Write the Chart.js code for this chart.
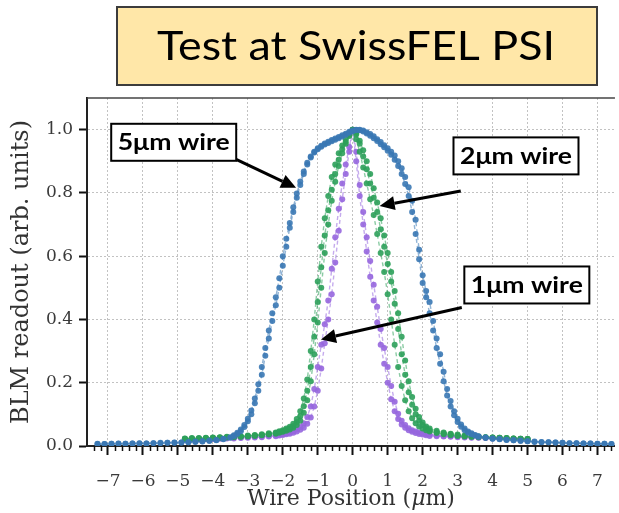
<!DOCTYPE html>
<html>
<head>
<meta charset="utf-8">
<script src="https://cdn.jsdelivr.net/npm/chart.js@4/dist/chart.umd.min.js"></script>
<style>
  html, body { margin: 0; padding: 0; background: #fff; }
  canvas { display: block; }
</style>
</head>
<body>
<canvas id="wireChart" width="619" height="513"></canvas>
<script>
// wire positions (um), shared by the scans of each wire
const xWide = [-7.3,-7.1,-6.9,-6.7,-6.5,-6.3,-6.1,-5.9,-5.7,-5.5,-5.3,-5.1,-4.9,-4.7,-4.5,-4.3,-4.1,-3.9,-3.7,
  -3.5,-3.4,-3.3,-3.2,-3.1,-3.0,-2.9,-2.8,-2.7,-2.6,-2.5,-2.4,-2.3,-2.2,-2.1,-2.0,-1.9,-1.8,-1.7,-1.6,-1.5,-1.4,-1.3,-1.2,-1.1,-1.0,-0.9,-0.8,-0.7,-0.6,-0.5,-0.4,-0.3,-0.2,-0.1,
  0.0,0.1,0.2,0.3,0.4,0.5,0.6,0.7,0.8,0.9,1.0,1.1,1.2,1.3,1.4,1.5,1.6,1.7,1.8,1.9,2.0,2.1,2.2,2.3,2.4,2.5,2.6,2.7,2.8,2.9,3.0,3.1,3.2,3.3,3.4,3.5,3.6,
  3.8,4.0,4.2,4.4,4.6,4.8,5.0,5.2,5.4,5.6,5.8,6.0,6.2,6.4,6.6,6.8,7.0,7.2,7.4];

const xNarrow = [-4.8,-4.6,-4.4,-4.2,-4.0,-3.8,-3.6,-3.4,-3.2,-3.0,-2.8,-2.6,-2.4,-2.2,
  -2.1,-2.0,-1.9,-1.8,-1.7,-1.6,-1.5,-1.4,-1.3,-1.2,-1.1,-1.0,-0.9,-0.8,-0.7,-0.6,-0.5,-0.4,-0.3,-0.2,-0.1,
  0.0,0.1,0.2,0.3,0.4,0.5,0.6,0.7,0.8,0.9,1.0,1.1,1.2,1.3,1.4,1.5,1.6,1.7,1.8,1.9,2.0,2.1,
  2.2,2.4,2.6,2.8,3.0,3.2,3.4,3.6,3.8,4.0,4.2,4.4,4.6,4.8,5.0];

// 5um wire, two scans
const blue1 = [.006,.006,.007,.007,.007,.008,.008,.008,.009,.009,.010,.010,.011,.012,.013,.014,.016,.018,.021,
  .026,.031,.038,.047,.060,.078,.100,.135,.175,.225,.285,.340,.395,.445,.500,.570,.630,.690,.740,.785,.825,.860,.890,.912,.928,.938,.946,.953,.958,.963,.968,.973,.978,.984,.990,
  .995,.999,1.0,.997,.992,.986,.979,.970,.961,.951,.941,.930,.918,.900,.878,.850,.818,.775,.715,.620,.540,.490,.455,.395,.340,.290,.235,.180,.142,.110,.086,.068,.055,.046,.040,.035,.031,
  .027,.024,.022,.020,.018,.017,.015,.014,.013,.012,.011,.010,.009,.009,.008,.008,.007,.007,.006];
const blue2 = [.007,.006,.007,.008,.007,.008,.009,.008,.009,.010,.010,.011,.011,.012,.014,.015,.017,.019,.023,
  .028,.034,.042,.052,.066,.086,.112,.150,.195,.250,.310,.365,.420,.470,.530,.600,.655,.705,.755,.798,.836,.868,.895,.915,.930,.941,.949,.956,.962,.967,.972,.977,.982,.987,.993,
  .997,1.0,.998,.994,.988,.981,.973,.964,.954,.944,.933,.921,.905,.885,.860,.828,.790,.740,.670,.590,.515,.470,.420,.365,.310,.260,.205,.160,.125,.097,.076,.061,.050,.042,.037,.033,.029,
  .026,.023,.021,.019,.018,.016,.015,.013,.012,.012,.011,.010,.009,.009,.008,.008,.007,.007,.006];

// 2um wire, three scans
const green1 = [.024,.025,.025,.026,.027,.028,.029,.030,.031,.033,.035,.037,.040,.043,
  .047,.050,.055,.061,.070,.085,.110,.150,.210,.300,.400,.520,.630,.720,.790,.850,.890,.925,.950,.970,.987,
  1.0,.985,.955,.915,.875,.830,.785,.740,.685,.630,.575,.520,.450,.370,.290,.225,.170,.130,.100,.080,.066,.056,
  .050,.044,.040,.037,.034,.032,.030,.029,.028,.027,.026,.025,.024,.023,.022];
const green2 = [.022,.023,.024,.024,.025,.026,.027,.028,.029,.030,.032,.034,.036,.039,
  .042,.045,.048,.052,.058,.066,.080,.105,.145,.205,.290,.390,.500,.610,.700,.775,.835,.885,.925,.955,.980,
  1.0,.970,.930,.880,.830,.780,.730,.670,.610,.550,.480,.400,.320,.250,.190,.145,.110,.088,.072,.062,.055,.050,
  .046,.041,.037,.034,.032,.030,.029,.028,.027,.026,.025,.024,.023,.022,.021];
const green3 = [.023,.024,.024,.025,.026,.027,.028,.029,.030,.032,.033,.035,.038,.041,
  .044,.047,.051,.056,.063,.075,.094,.126,.175,.250,.345,.455,.565,.665,.745,.810,.860,.905,.938,.962,.984,
  1.0,.990,.965,.935,.900,.860,.815,.770,.720,.665,.610,.550,.490,.420,.345,.270,.205,.155,.118,.092,.074,.062,
  .055,.048,.043,.039,.036,.033,.031,.030,.028,.027,.026,.025,.024,.023,.022];

// 1um wire, two scans
const purple1 = [.022,.022,.023,.023,.024,.025,.025,.026,.027,.028,.029,.030,.032,.034,
  .036,.038,.040,.043,.047,.052,.060,.072,.092,.125,.180,.250,.320,.385,.460,.560,.660,.750,.830,.890,.945,
  1.0,.930,.825,.740,.660,.585,.510,.440,.370,.310,.250,.190,.140,.102,.080,.066,.056,.050,.046,.043,.040,.038,
  .036,.034,.032,.031,.030,.029,.028,.027,.026,.025,.025,.024,.023,.023,.022];
const purple2 = [.020,.021,.021,.022,.022,.023,.024,.024,.025,.026,.027,.028,.030,.031,
  .033,.035,.037,.039,.042,.046,.051,.058,.070,.090,.125,.175,.245,.325,.400,.480,.580,.680,.780,.860,.930,
  1.0,.900,.790,.700,.615,.535,.460,.390,.320,.260,.200,.148,.110,.085,.068,.058,.050,.045,.041,.038,.036,.034,
  .032,.031,.030,.029,.028,.027,.026,.026,.025,.024,.024,.023,.022,.022,.021];

// axis ticks
const xTickValues = [-7,-6,-5,-4,-3,-2,-1,0,1,2,3,4,5,6,7];
const yTickValues = [0,0.2,0.4,0.6,0.8,1.0];

// text boxes with arrows, placed in data units
const notes = [
  { text: '5\u03bcm wire', x: -5.12, y: 0.96, fx: -3.35, fy: 0.907, tx: -1.62, ty: 0.816 },
  { text: '2\u03bcm wire', x: 4.67, y: 0.917, fx: 3.09, fy: 0.806, tx: 0.77, ty: 0.759 },
  { text: '1\u03bcm wire', x: 4.98, y: 0.509, fx: 3.12, fy: 0.438, tx: -0.91, ty: 0.337 }
];

const BLUE = '58,120,180', GREEN = '44,160,90', PURPLE = '150,102,222';

function pts(xs, ys) {
  return xs.map((x, i) => ({ x: x, y: ys[i] }));
}

function scan(xs, ys, rgb) {
  return {
    data: pts(xs, ys),
    showLine: true,
    borderColor: 'rgba(' + rgb + ',0.55)',
    borderWidth: 1.4,
    borderDash: [4, 3],
    pointRadius: 3,
    pointBorderWidth: 0,
    pointBackgroundColor: 'rgba(' + rgb + ',0.9)',
    tension: 0
  };
}

// text stretched sideways to a given width
function fitText(ctx, text, cx, cy, width) {
  const w = ctx.measureText(text).width;
  ctx.save();
  ctx.translate(cx, cy);
  ctx.scale(width / w, 1);
  ctx.textAlign = 'center';
  ctx.textBaseline = 'middle';
  ctx.fillText(text, 0, 0);
  ctx.restore();
}

function arrow(ctx, x1, y1, x2, y2) {
  const a = Math.atan2(y2 - y1, x2 - x1);
  const head = 15, half = 7;
  const bx = x2 - head * Math.cos(a), by = y2 - head * Math.sin(a);
  ctx.beginPath();
  ctx.moveTo(x1, y1);
  ctx.lineTo(bx, by);
  ctx.stroke();
  ctx.beginPath();
  ctx.moveTo(x2, y2);
  ctx.lineTo(bx + half * Math.sin(a), by - half * Math.cos(a));
  ctx.lineTo(bx - half * Math.sin(a), by + half * Math.cos(a));
  ctx.closePath();
  ctx.fill();
}

const decorations = {
  id: 'decorations',
  beforeDraw(chart) {
    const ctx = chart.ctx;
    ctx.save();
    // title box
    ctx.fillStyle = '#ffe7a8';
    ctx.fillRect(117, 7, 480, 78);
    ctx.strokeStyle = '#3c3c3c';
    ctx.lineWidth = 2;
    ctx.strokeRect(117, 7, 480, 78);
    ctx.fillStyle = '#000';
    ctx.font = '41px Lato';
    fitText(ctx, 'Test at SwissFEL PSI', 356, 47, 398);
    ctx.restore();
  },
  afterDraw(chart) {
    const ctx = chart.ctx, area = chart.chartArea;
    const xs = chart.scales.x, ys = chart.scales.y;
    ctx.save();
    // top spine
    ctx.strokeStyle = '#444';
    ctx.lineWidth = 1.5;
    ctx.beginPath();
    ctx.moveTo(area.left, area.top);
    ctx.lineTo(area.right, area.top);
    ctx.stroke();
    // minor ticks on x every 0.2
    ctx.strokeStyle = '#111';
    ctx.lineWidth = 1.5;
    for (let i = -37; i <= 37; i++) {
      if (i % 5 === 0) continue;
      const px = Math.round(xs.getPixelForValue(i / 5)) + 0.5;
      ctx.beginPath();
      ctx.moveTo(px, area.bottom);
      ctx.lineTo(px, area.bottom + 5);
      ctx.stroke();
    }
    // x axis title, with italic mu
    const parts = [['Wire Position (', 'normal'], ['\u03bc', 'italic'], ['m)', 'normal']];
    let w = 0;
    parts.forEach(p => { ctx.font = p[1] + ' 22px "DejaVu Serif"'; w += ctx.measureText(p[0]).width; });
    let cx = (area.left + area.right) / 2 - w / 2;
    ctx.fillStyle = '#333';
    ctx.textBaseline = 'middle';
    ctx.textAlign = 'left';
    parts.forEach(p => {
      ctx.font = p[1] + ' 22px "DejaVu Serif"';
      ctx.fillText(p[0], cx, 499);
      cx += ctx.measureText(p[0]).width;
    });
    // labelled boxes and arrows
    notes.forEach(n => {
      ctx.strokeStyle = '#000';
      ctx.fillStyle = '#000';
      ctx.lineWidth = 3;
      arrow(ctx, xs.getPixelForValue(n.fx), ys.getPixelForValue(n.fy),
        xs.getPixelForValue(n.tx), ys.getPixelForValue(n.ty));
      const cxn = xs.getPixelForValue(n.x), cyn = ys.getPixelForValue(n.y);
      const bw = 125, bh = 37;
      ctx.fillStyle = '#fff';
      ctx.fillRect(cxn - bw / 2, cyn - bh / 2, bw, bh);
      ctx.lineWidth = 2;
      ctx.strokeRect(cxn - bw / 2, cyn - bh / 2, bw, bh);
      ctx.fillStyle = '#000';
      ctx.font = 'bold 22px Lato';
      fitText(ctx, n.text, cxn, cyn + 1, 112);
    });
    ctx.restore();
  }
};

const tickFont = { family: 'DejaVu Serif', size: 17 };

new Chart(document.getElementById('wireChart'), {
  type: 'scatter',
  data: {
    datasets: [
      scan(xWide, blue1, BLUE),
      scan(xWide, blue2, BLUE),
      scan(xNarrow, green1, GREEN),
      scan(xNarrow, green2, GREEN),
      scan(xNarrow, green3, GREEN),
      scan(xNarrow, purple1, PURPLE),
      scan(xNarrow, purple2, PURPLE)
    ]
  },
  options: {
    responsive: false,
    animation: false,
    layout: { padding: { top: 98, left: 0, right: 0, bottom: 0 } },
    plugins: { legend: { display: false }, tooltip: { enabled: false } },
    scales: {
      x: {
        type: 'linear',
        min: -7.6,
        max: 7.5,
        afterBuildTicks: s => { s.ticks = xTickValues.map(v => ({ value: v })); },
        afterFit: s => { s.height = 67; },
        ticks: {
          autoSkip: false, maxRotation: 0, padding: 16,
          color: '#3a3a3a', font: tickFont,
          callback: v => String(v).replace('-', '\u2212')
        },
        grid: { color: '#c2c2c2', lineWidth: 1, tickColor: '#111', tickWidth: 2, tickLength: 9 },
        border: { display: true, color: '#222', width: 2, dash: [2, 2] }
      },
      y: {
        min: 0,
        max: 1.1,
        afterBuildTicks: s => { s.ticks = yTickValues.map(v => ({ value: v })); },
        afterFit: s => { s.width = 87; },
        ticks: {
          padding: 6, color: '#3a3a3a', font: tickFont,
          callback: v => v.toFixed(1)
        },
        grid: { color: '#c2c2c2', lineWidth: 1, tickColor: '#111', tickWidth: 2, tickLength: 8 },
        border: { display: true, color: '#222', width: 2, dash: [2, 2] },
        title: {
          display: true, text: 'BLM readout (arb. units)', color: '#333',
          font: { family: 'DejaVu Serif', size: 24 }, padding: { top: 7, bottom: 0 }
        }
      }
    }
  },
  plugins: [decorations]
});
</script>
</body>
</html>
